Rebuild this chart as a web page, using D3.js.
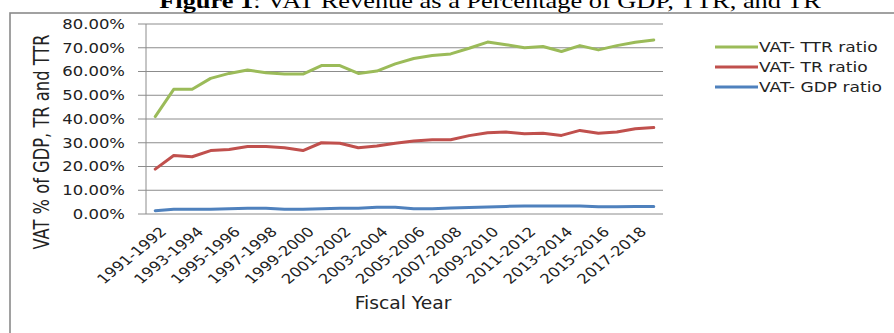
<!DOCTYPE html>
<html>
<head>
<meta charset="utf-8">
<script src="https://cdn.jsdelivr.net/npm/d3@7"></script>
<style>
  html, body { margin: 0; padding: 0; background: #fff; }
  svg { display: block; }
</style>
</head>
<body>
<svg id="chart" width="894" height="333"></svg>
<script>
// Fiscal years (one point per year)
const categories = [
  "1991-1992","1992-1993","1993-1994","1994-1995","1995-1996","1996-1997","1997-1998",
  "1998-1999","1999-2000","2000-2001","2001-2002","2002-2003","2003-2004","2004-2005",
  "2005-2006","2006-2007","2007-2008","2008-2009","2009-2010","2010-2011","2011-2012",
  "2012-2013","2013-2014","2014-2015","2015-2016","2016-2017","2017-2018","2018-2019"
];

// VAT as a share of total tax revenue
const ttrRatio = [
  0.410,0.525,0.525,0.571,0.592,0.606,0.595,0.589,0.589,0.625,0.625,0.592,0.602,0.632,
  0.655,0.667,0.674,0.698,0.724,0.713,0.700,0.705,0.684,0.709,0.691,0.709,0.723,0.733
];
// VAT as a share of tax revenue
const trRatio = [
  0.189,0.246,0.241,0.267,0.272,0.284,0.284,0.279,0.267,0.300,0.298,0.279,0.286,0.298,
  0.307,0.313,0.313,0.330,0.342,0.345,0.338,0.340,0.331,0.352,0.340,0.345,0.359,0.364
];
// VAT as a share of GDP
const gdpRatio = [
  0.014,0.020,0.020,0.020,0.022,0.024,0.024,0.020,0.020,0.022,0.024,0.024,0.028,0.028,
  0.022,0.022,0.025,0.027,0.029,0.032,0.034,0.034,0.034,0.034,0.031,0.031,0.032,0.032
];

const yTicks = [0, 0.1, 0.2, 0.3, 0.4, 0.5, 0.6, 0.7, 0.8];
const seriesNames = ["VAT- TTR ratio", "VAT- TR ratio", "VAT- GDP ratio"];
const seriesColors = ["#9BBB59", "#C0504D", "#4F81BD"];
const seriesValues = [ttrRatio, trRatio, gdpRatio];

const svg = d3.select("#chart");
const font = "'DejaVu Sans', sans-serif";
const SX = 1.22; // horizontal text widening

const plot = { left: 146, right: 663, top: 24, bottom: 214 };

const x = d3.scaleBand().domain(categories).range([plot.left, plot.right]);
const cx = c => x(c) + x.bandwidth() / 2;
const y = d3.scaleLinear().domain([0, 0.8]).range([plot.bottom, plot.top]);

// Outer frame
svg.append("rect")
  .attr("x", 10).attr("y", 13)
  .attr("width", 900).attr("height", 340)
  .attr("fill", "none").attr("stroke", "#8a8a8a").attr("stroke-width", 1.6);

// Title (runs off the top edge)
const title = svg.append("text")
  .attr("transform", `translate(490,8) scale(1.2,1)`)
  .attr("text-anchor", "middle")
  .attr("font-family", "'Liberation Serif', 'Times New Roman', serif")
  .attr("font-size", 22)
  .attr("fill", "#000");
title.append("tspan").attr("font-weight", "bold").text("Figure 1");
title.append("tspan").text(": VAT Revenue as a Percentage of GDP, TTR, and TR");

// Gridlines and left tick marks
const grid = svg.append("g");
grid.selectAll("line").data(yTicks).join("line")
  .attr("x1", plot.left - 8).attr("x2", plot.right)
  .attr("y1", d => y(d)).attr("y2", d => y(d))
  .attr("stroke", "#8c8c8c").attr("stroke-width", 1);
// Y axis line
svg.append("line")
  .attr("x1", plot.left).attr("x2", plot.left)
  .attr("y1", y(0.8)).attr("y2", y(0))
  .attr("stroke", "#8c8c8c").attr("stroke-width", 1);

// Y tick labels
const pct = d3.format(".2%");
svg.append("g").selectAll("text").data(yTicks).join("text")
  .attr("transform", d => `translate(125,${y(d)}) scale(${SX},1)`)
  .attr("dy", "0.36em")
  .attr("text-anchor", "end")
  .attr("font-family", font).attr("font-size", 13.5)
  .attr("fill", "#222")
  .text(d => pct(d));

// X tick labels (every other year)
const xLabels = categories.filter((c, i) => i % 2 === 0);
svg.append("g").selectAll("text").data(xLabels).join("text")
  .attr("transform", d => `translate(${cx(d) + 4},${plot.bottom + 12}) scale(${SX},1) rotate(-45)`)
  .attr("dy", "0.7em")
  .attr("text-anchor", "end")
  .attr("font-family", font).attr("font-size", 13.5)
  .attr("fill", "#222")
  .text(d => d);

// Axis titles
svg.append("text")
  .attr("transform", `translate(403,309) scale(1.1,1)`)
  .attr("text-anchor", "middle")
  .attr("font-family", font).attr("font-size", 17)
  .attr("fill", "#222")
  .text("Fiscal Year");

svg.append("text")
  .attr("transform", `translate(49,142) scale(1.25,1) rotate(-90)`)
  .attr("text-anchor", "middle")
  .attr("font-family", font).attr("font-size", 16.3)
  .attr("fill", "#222")
  .text("VAT % of GDP, TR and TTR");

// Series lines
const line = d3.line().x((d, i) => cx(categories[i])).y(d => y(d));
svg.append("g").selectAll("path").data(seriesValues).join("path")
  .attr("d", d => line(d))
  .attr("fill", "none")
  .attr("stroke", (d, i) => seriesColors[i])
  .attr("stroke-width", 3)
  .attr("stroke-linejoin", "round")
  .attr("stroke-linecap", "round");

// Legend
const legend = svg.append("g");
const rows = legend.selectAll("g").data(seriesNames).join("g")
  .attr("transform", (d, i) => `translate(715,${47 + i * 20})`);
rows.append("line")
  .attr("x1", 0).attr("x2", 43).attr("y1", 0).attr("y2", 0)
  .attr("stroke", (d, i) => seriesColors[i]).attr("stroke-width", 3);
rows.append("text")
  .attr("transform", `translate(44,0) scale(1.18,1)`)
  .attr("dy", "0.36em")
  .attr("font-family", font).attr("font-size", 14.5)
  .attr("fill", "#222")
  .text(d => d);
</script>
</body>
</html>
